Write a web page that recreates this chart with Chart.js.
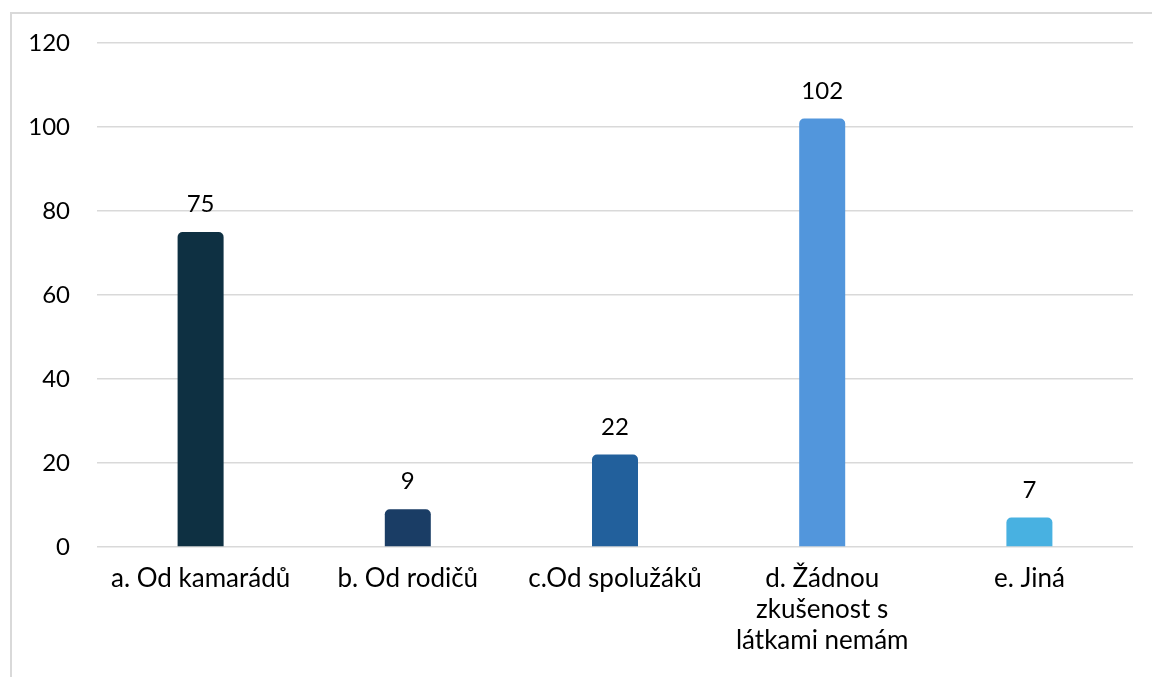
<!DOCTYPE html>
<html>
<head>
<meta charset="utf-8">
<script src="https://cdn.jsdelivr.net/npm/chart.js@4.4.1/dist/chart.umd.min.js"></script>
<style>
  html, body { margin: 0; padding: 0; background: #fff; }
  #wrap { position: relative; width: 1152px; height: 677px; overflow: hidden; }
  #frame { position: absolute; left: 10px; top: 12px; right: -4px; bottom: -4px; border: 2px solid #d9d9d9; }
  canvas { position: absolute; left: 0; top: 0; }
</style>
</head>
<body>
<div id="wrap">
  <div id="frame"></div>
  <canvas id="c" width="1152" height="677"></canvas>
</div>
<script>
// Odpovědi – zdroj zkušenosti s látkami
const categories = [
  'a. Od kamarádů',
  'b. Od rodičů',
  'c.Od spolužáků',
  ['d. Žádnou', 'zkušenost s', 'látkami nemám'],
  'e. Jiná'
];
const counts = [75, 9, 22, 102, 7];
const barColors = ['#0e3042', '#1a3d65', '#22609c', '#5296dc', '#48b1e1'];
const yTicks = [0, 20, 40, 60, 80, 100, 120];

const FONT = 'Lato, "Open Sans", sans-serif';

// étiquettes de valeur au-dessus des barres
const valueLabels = {
  id: 'valueLabels',
  afterDatasetsDraw(chart) {
    const ctx = chart.ctx;
    const meta = chart.getDatasetMeta(0);
    ctx.save();
    ctx.font = '24px ' + FONT;
    ctx.fillStyle = '#000';
    ctx.textAlign = 'center';
    ctx.textBaseline = 'alphabetic';
    meta.data.forEach((bar, i) => {
      ctx.fillText(String(counts[i]), bar.x, bar.y - 20);
    });
    ctx.restore();
  }
};

new Chart(document.getElementById('c').getContext('2d'), {
  type: 'bar',
  data: {
    labels: categories,
    datasets: [{
      data: counts,
      backgroundColor: barColors,
      borderRadius: { topLeft: 5, topRight: 5, bottomLeft: 0, bottomRight: 0 },
      borderSkipped: false,
      categoryPercentage: 1,
      barPercentage: 0.222
    }]
  },
  options: {
    responsive: false,
    animation: false,
    layout: { padding: { top: 43, right: 19, left: 0, bottom: 0 } },
    plugins: { legend: { display: false }, tooltip: { enabled: false } },
    scales: {
      x: {
        grid: { display: false, drawTicks: false },
        border: { display: false },
        ticks: { color: '#000', font: { family: FONT, size: 26, lineHeight: 1.2 }, padding: 16, maxRotation: 0, autoSkip: false },
        afterFit(scale) { scale.height = 130; }
      },
      y: {
        min: 0,
        max: 120,
        afterBuildTicks(scale) { scale.ticks = yTicks.map(v => ({ value: v })); },
        grid: { color: '#d9d9d9', lineWidth: 1.5, drawTicks: false },
        border: { display: false },
        ticks: { color: '#000', font: { family: FONT, size: 24 }, padding: 27 },
        afterFit(scale) { scale.width = 97; }
      }
    }
  },
  plugins: [valueLabels]
});
</script>
</body>
</html>
